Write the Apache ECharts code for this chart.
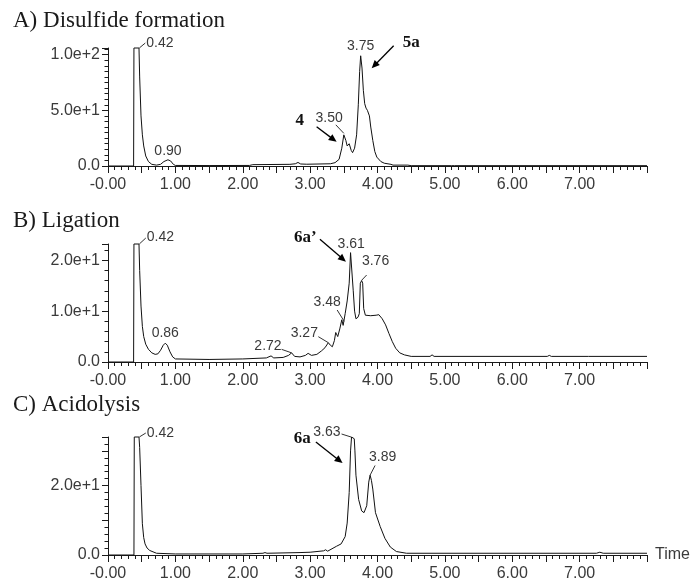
<!DOCTYPE html>
<html>
<head>
<meta charset="utf-8">
<script src="https://cdn.jsdelivr.net/npm/echarts@6/dist/echarts.min.js"></script>
<style>
html,body{margin:0;padding:0;background:#fff;}
#chart{width:692px;height:583px;}
</style>
</head>
<body>
<div id="chart"></div>
<script>
// ---------------- DATA ----------------
const panelTitles = ['A) Disulfide formation', 'B) Ligation', 'C) Acidolysis'];
const timeTicks = [0, 1, 2, 3, 4, 5, 6, 7];

// trace A: [time, intensity]
const traceA = [[0,0],[0.38,0],[0.385,106],[0.46,106],[0.47,80],[0.49,45],[0.51,28],[0.53,18],[0.56,9],[0.6,4],[0.65,1.5],[0.72,0.8],[0.78,1.5],[0.83,4],[0.89,5.6],[0.93,4.5],[0.97,1.5],[1.0,0.5],[1.5,0.4],[2.1,0.5],[2.15,1.2],[2.7,1.5],[2.78,2],[2.82,3.2],[2.86,1.8],[2.95,1.6],[3.3,2],[3.37,3],[3.43,6],[3.47,16],[3.50,28],[3.53,23],[3.55,18],[3.58,20],[3.61,14],[3.63,12],[3.66,16],[3.69,28],[3.715,55],[3.735,85],[3.75,99],[3.77,88],[3.79,68],[3.81,56],[3.83,52],[3.85,50],[3.88,45],[3.9,35],[3.93,23],[3.96,13],[3.99,8],[4.05,4],[4.1,2.5],[4.2,1.5],[4.23,0.8],[4.45,0.8],[4.5,0.3],[5.1,0.3],[5.12,0.8],[5.14,0.3],[8,0.3]];
const traceB = [[0,0],[0.38,0],[0.385,23.2],[0.46,23.2],[0.47,18],[0.49,11],[0.51,7],[0.53,5],[0.56,3.5],[0.6,2.5],[0.65,1.8],[0.7,1.5],[0.74,1.6],[0.78,2.3],[0.82,3.3],[0.85,3.7],[0.88,3.3],[0.92,2],[0.96,1],[1.0,0.6],[1.5,0.5],[2.0,0.6],[2.35,0.8],[2.42,1.2],[2.46,0.8],[2.6,0.9],[2.68,1.3],[2.725,1.8],[2.77,1.1],[2.85,1.0],[2.93,1.3],[2.97,1.7],[3.02,1.3],[3.1,1.5],[3.17,2.2],[3.22,2.8],[3.27,3.8],[3.3,3.3],[3.33,3.0],[3.36,4.2],[3.38,5.8],[3.41,5.0],[3.44,6.5],[3.47,8.3],[3.49,7.2],[3.52,9.5],[3.55,12],[3.58,15.5],[3.60,21.5],[3.62,21.2],[3.64,14],[3.66,10],[3.68,8.5],[3.71,8.8],[3.73,9.5],[3.745,15.5],[3.765,16],[3.78,15.5],[3.795,10.5],[3.82,9.2],[3.9,9.1],[3.98,9.2],[4.02,9.3],[4.07,8.5],[4.12,7.3],[4.17,5.6],[4.22,4],[4.27,2.7],[4.33,1.8],[4.4,1.4],[4.5,1.1],[4.78,1.1],[4.81,1.4],[4.84,1.1],[6.52,1.1],[6.55,1.3],[6.58,1.1],[7.08,1.1],[7.1,1.3],[7.13,1.1],[8,1.1]];
const traceC = [[0,0],[0.385,0],[0.39,34],[0.46,34],[0.47,31],[0.49,20],[0.51,9],[0.53,5],[0.55,3.2],[0.58,2],[0.62,1.3],[0.72,0.5],[1.0,0.3],[2.0,0.3],[2.3,0.5],[2.33,0.7],[2.36,0.5],[2.85,0.7],[3.0,0.8],[3.2,1.2],[3.23,1.5],[3.26,1.1],[3.39,2.5],[3.46,3.2],[3.52,5.3],[3.55,9.2],[3.58,18],[3.6,30],[3.615,34],[3.655,33.5],[3.665,30],[3.68,23],[3.72,16],[3.765,12.7],[3.8,12.2],[3.84,14.2],[3.87,21],[3.89,23],[3.91,21.5],[3.93,19],[3.97,12.2],[4.04,8.2],[4.11,4.8],[4.19,2.3],[4.28,1],[4.43,0.5],[7.25,0.5],[7.3,0.8],[7.35,0.5],[8,0.5]];

// peak retention-time labels: [time, intensity, text]
const peaksA = [[0.42,106,'0.42'],[0.89,5.6,'0.90'],[3.50,28,'3.50'],[3.75,99,'3.75']];
const peaksB = [[0.42,23.2,'0.42'],[0.85,3.7,'0.86'],[2.725,1.8,'2.72'],[3.27,3.8,'3.27'],[3.48,8,'3.48'],[3.61,21.5,'3.61'],[3.76,16,'3.76']];
const peaksC = [[0.42,34,'0.42'],[3.63,34,'3.63'],[3.89,23,'3.89']];
// compound labels (arrow targets): [time, intensity, text]
const compoundsA = [[3.50,28,'4'],[3.75,99,'5a']];
const compoundsB = [[3.61,21.5,'6a’']];
const compoundsC = [[3.63,34,'6a']];

// axis ranges
const yMax = [106, 23.2, 34];
const yTickStep = [50, 10, 10];
const yLabelStep = [50, 10, 20];

// ---------------- STYLE / LAYOUT ----------------
const grids = [
  {left:108, width:539, top:48, height:118},
  {left:108, width:539, top:244, height:118},
  {left:108, width:539, top:437, height:118}
];
const yMinorSplit = [10, 5, 5];
const titleTops = [9, 209, 393];

// pixel offsets relative to the anchor point
const peakLayouts = [
  [
    {line:[3,0,9,-5], text:[10,-5], align:'left', va:'middle'},
    {text:[0,-2], align:'center', va:'bottom'},
    {line:[-8,-10,0,-1.5], text:[-1,-17], align:'right', va:'middle'},
    {text:[0,-3], align:'center', va:'bottom'}
  ],
  [
    {line:[3,0,9.5,-6], text:[10.5,-6.5], align:'left', va:'middle'},
    {text:[0,-3], align:'center', va:'bottom'},
    {line:[-10,-3.5,0,0], text:[-10,-6.8], align:'right', va:'middle'},
    {line:[-10,-6,0,0], text:[-10.4,-9.2], align:'right', va:'middle'},
    {line:[-5.3,-11.3,1.7,0], text:[-1.6,-18.8], align:'right', va:'middle'},
    {text:[0,-2], align:'center', va:'bottom'},
    {line:[5.3,-5.6,0,0], text:[0.6,-19], align:'left', va:'middle'}
  ],
  [
    {line:[3,0,9.5,-4], text:[10.5,-4], align:'left', va:'middle'},
    {line:[-11,-3,-1.5,0], text:[-12,-5], align:'right', va:'middle'},
    {line:[5,-9.7,0,0], text:[-1,-18], align:'left', va:'middle'}
  ]
];
const arrowLayouts = [
  [
    {tail:[-27.2,-8.1], head:[-7.2,7], text:[-44,-14.3]},
    {tail:[33,-10], head:[11,12.5], text:[50.7,-13.3]}
  ],
  [
    {tail:[-31.3,-13.3], head:[-5.3,9], text:[-45.8,-15.1]}
  ],
  [
    {tail:[-36.7,5], head:[-10,26], text:[-50.2,2]}
  ]
];

const SANS = '"Liberation Sans", Arial, sans-serif';
const SERIF = '"Liberation Serif", "Times New Roman", serif';
const AXIS_COLOR = '#1a1a1a';
const LABEL_COLOR = '#3a3a3a';

function xFmt(v) {
  if (Math.abs(v - Math.round(v)) > 1e-6) return '';
  const r = Math.round(v);
  if (timeTicks.indexOf(r) < 0) return '';
  return r === 0 ? '-0.00' : r.toFixed(2);
}
function yFmtFactory(step) {
  return function (v) {
    if (v === 0) return '0.0';
    const k = v / step;
    if (Math.abs(k - Math.round(k)) > 1e-6) return '';
    const e = Math.floor(Math.log10(v) + 1e-9);
    const m = v / Math.pow(10, e);
    return m.toFixed(1) + 'e+' + e;
  };
}

function peakRenderer(items, layouts) {
  return function (params, api) {
    const i = params.dataIndex;
    const L = layouts[i];
    const p = api.coord([api.value(0), api.value(1)]);
    const children = [];
    if (L.line) {
      children.push({
        type: 'line',
        shape: {x1: p[0] + L.line[0], y1: p[1] + L.line[1], x2: p[0] + L.line[2], y2: p[1] + L.line[3]},
        style: {stroke: '#333', lineWidth: 1}
      });
    }
    children.push({
      type: 'text',
      style: {
        text: items[i][2], x: p[0] + L.text[0], y: p[1] + L.text[1],
        align: L.align, verticalAlign: L.va,
        font: '14px ' + SANS, fill: LABEL_COLOR
      }
    });
    return {type: 'group', children: children};
  };
}
function arrowRenderer(items, layouts) {
  return function (params, api) {
    const i = params.dataIndex;
    const L = layouts[i];
    const p = api.coord([api.value(0), api.value(1)]);
    const tx = p[0] + L.tail[0], ty = p[1] + L.tail[1];
    const hx = p[0] + L.head[0], hy = p[1] + L.head[1];
    const dx = hx - tx, dy = hy - ty;
    const len = Math.sqrt(dx * dx + dy * dy);
    const ux = dx / len, uy = dy / len;
    const hl = 8, hw = 3.6;
    const bx = hx - ux * hl, by = hy - uy * hl;
    return {
      type: 'group',
      children: [
        {type: 'line', shape: {x1: tx, y1: ty, x2: bx + ux, y2: by + uy}, style: {stroke: '#000', lineWidth: 1.3}},
        {type: 'polygon', shape: {points: [[hx, hy], [bx - uy * hw, by + ux * hw], [bx + uy * hw, by - ux * hw]]}, style: {fill: '#000'}},
        {type: 'text', style: {
          text: items[i][2], x: p[0] + L.text[0], y: p[1] + L.text[1],
          align: 'center', verticalAlign: 'middle',
          font: 'bold 17px ' + SERIF, fill: '#111'
        }}
      ]
    };
  };
}

const traces = [traceA, traceB, traceC];
const peaks = [peaksA, peaksB, peaksC];
const compounds = [compoundsA, compoundsB, compoundsC];

const option = {
  animation: false,
  backgroundColor: '#fff',
  title: panelTitles.map((t, i) => ({
    text: t, left: 13, top: titleTops[i], padding: 0,
    textStyle: {fontFamily: SERIF, fontSize: 23, fontWeight: 'normal', color: '#1a1a1a'}
  })),
  grid: grids,
  xAxis: grids.map((g, i) => ({
    type: 'value', gridIndex: i, min: 0, max: 8, interval: 0.5,
    name: i === 2 ? 'Time' : '',
    nameLocation: 'end', nameGap: 8,
    nameTextStyle: {fontFamily: SANS, fontSize: 16, color: LABEL_COLOR, verticalAlign: 'middle'},
    axisLine: {show: true, onZero: false, lineStyle: {color: AXIS_COLOR, width: 1}},
    axisTick: {show: true, length: 7, lineStyle: {color: AXIS_COLOR, width: 1}},
    minorTick: {show: true, splitNumber: 5, length: 4, lineStyle: {color: AXIS_COLOR, width: 1}},
    splitLine: {show: false}, minorSplitLine: {show: false},
    axisLabel: {formatter: xFmt, fontFamily: SANS, fontSize: 16, color: LABEL_COLOR, margin: 11, showMinLabel: true, showMaxLabel: true}
  })),
  yAxis: grids.map((g, i) => ({
    type: 'value', gridIndex: i, min: 0, max: yMax[i], interval: yTickStep[i],
    axisLine: {show: true, onZero: false, lineStyle: {color: AXIS_COLOR, width: 1}},
    axisTick: {show: true, length: 6, lineStyle: {color: AXIS_COLOR, width: 1}},
    minorTick: {show: true, splitNumber: yMinorSplit[i], length: 3.5, lineStyle: {color: AXIS_COLOR, width: 1}},
    splitLine: {show: false}, minorSplitLine: {show: false},
    axisLabel: {formatter: yFmtFactory(yLabelStep[i]), fontFamily: SANS, fontSize: 16, color: LABEL_COLOR, margin: 8, showMinLabel: true, showMaxLabel: true}
  })),
  series: []
};

traces.forEach((tr, i) => {
  option.series.push({
    type: 'line', xAxisIndex: i, yAxisIndex: i, data: tr,
    showSymbol: false, symbol: 'none', smooth: false, clip: false,
    lineStyle: {color: '#111', width: 1}, silent: true
  });
  option.series.push({
    type: 'custom', xAxisIndex: i, yAxisIndex: i,
    data: peaks[i].map(d => [d[0], d[1]]),
    encode: {x: 0, y: 1},
    renderItem: peakRenderer(peaks[i], peakLayouts[i]), silent: true, z: 5
  });
  option.series.push({
    type: 'custom', xAxisIndex: i, yAxisIndex: i,
    data: compounds[i].map(d => [d[0], d[1]]),
    encode: {x: 0, y: 1},
    renderItem: arrowRenderer(compounds[i], arrowLayouts[i]), silent: true, z: 6
  });
});

const chart = echarts.init(document.getElementById('chart'), null, {renderer: 'canvas'});
chart.setOption(option);
</script>
</body>
</html>
